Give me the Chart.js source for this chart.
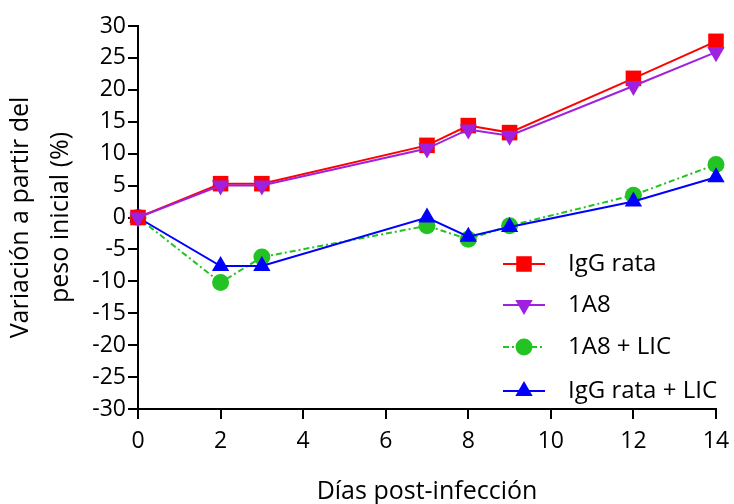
<!DOCTYPE html>
<html>
<head>
<meta charset="utf-8">
<script src="https://cdn.jsdelivr.net/npm/chart.js@4.4.1/dist/chart.umd.min.js"></script>
<style>
  html, body { margin: 0; padding: 0; background: #fff; }
  #wrap { width: 734px; height: 504px; }
</style>
</head>
<body>
<div id="wrap"><canvas id="graph" width="734" height="504"></canvas></div>
<script>
// days post infection
const dias = [0, 2, 3, 7, 8, 9, 12, 14];

// % weight change per group
const iggRata = [0, 5.3, 5.3, 11.3, 14.4, 13.3, 21.8, 27.6];
const a18 = [0, 5.0, 5.0, 10.8, 13.8, 12.8, 20.6, 25.9];
const a18Lic = [0, -10.2, -6.2, -1.3, -3.4, -1.3, 3.5, 8.3];
const iggRataLic = [0, -7.6, -7.6, 0, -3.0, -1.5, 2.5, 6.3];

const labels = ['IgG rata', '1A8', '1A8 + LIC', 'IgG rata + LIC'];

function pts(vals) {
    return dias.map((d, i) => ({ x: d, y: vals[i] }));
}

Chart.defaults.font.family = "'Open Sans', sans-serif";
Chart.defaults.color = '#000';

// legend drawn inside the plot, lower right
const insideLegend = {
    id: 'insideLegend',
    afterDatasetsDraw(chart) {
        const ctx = chart.ctx;
        const rows = [264, 305, 347, 391];
        ctx.save();
        chart.data.datasets.forEach((ds, i) => {
            let y = rows[i];
            ctx.strokeStyle = ds.borderColor;
            ctx.lineWidth = ds.borderWidth;
            ctx.setLineDash(ds.borderDash || []);
            ctx.beginPath();
            ctx.moveTo(503, y);
            ctx.lineTo(545, y);
            ctx.stroke();
            ctx.setLineDash([]);
            ctx.fillStyle = ds.pointBackgroundColor;
            ctx.strokeStyle = ds.pointBackgroundColor;
            Chart.helpers.drawPoint(ctx, {
                pointStyle: ds.pointStyle,
                rotation: ds.pointRotation || 0,
                radius: ds.pointRadius,
                borderWidth: 0
            }, 524, y);
            ctx.fillStyle = '#000';
            ctx.font = "24px 'Open Sans', sans-serif";
            ctx.textBaseline = 'middle';
            ctx.fillText(ds.label, 568, y);
        });
        ctx.restore();
    }
};

const ctx = document.getElementById('graph').getContext('2d');

const data = {
    datasets: [{
        label: labels[0],
        data: pts(iggRata),
        borderColor: '#FF0000',
        borderWidth: 2,
        pointStyle: 'rect',
        pointRadius: 11,
        pointBackgroundColor: '#FF0000',
        pointBorderWidth: 0,
        order: 2,
        clip: false
    },
    {
        label: labels[1],
        data: pts(a18),
        borderColor: '#A020E0',
        borderWidth: 2,
        pointStyle: 'triangle',
        pointRotation: 180,
        pointRadius: 10,
        pointBackgroundColor: '#A020E0',
        pointBorderWidth: 0,
        order: 1,
        clip: false
    },
    {
        label: labels[2],
        data: pts(a18Lic),
        borderColor: '#22C322',
        borderWidth: 2,
        borderDash: [6, 3, 2, 3],
        pointStyle: 'circle',
        pointRadius: 8.5,
        pointBackgroundColor: '#22C322',
        pointBorderWidth: 0,
        order: 4,
        clip: false
    },
    {
        label: labels[3],
        data: pts(iggRataLic),
        borderColor: '#0000FF',
        borderWidth: 2,
        pointStyle: 'triangle',
        pointRadius: 10,
        pointBackgroundColor: '#0000FF',
        pointBorderWidth: 0,
        order: 3,
        clip: false
    }]
};

const options = {
    responsive: false,
    animation: false,
    layout: {
        padding: { left: 0, right: 0, top: 26, bottom: 0 }
    },
    elements: { line: { tension: 0 } },
    scales: {
        x: {
            type: 'linear',
            min: 0,
            max: 14,
            afterFit(scale) {
                scale.height = 95;
                scale.paddingLeft = 0;
                scale.paddingRight = 18;
            },
            border: { display: true, color: '#000', width: 2 },
            grid: { drawOnChartArea: false, color: '#000', lineWidth: 2, tickLength: 10 },
            ticks: { stepSize: 2, font: { size: 23 }, padding: 9 },
            title: {
                display: true,
                text: 'Días post-infección',
                font: { size: 25, lineHeight: 1 },
                padding: { top: 0, bottom: 0 }
            }
        },
        y: {
            min: -30,
            max: 30,
            afterFit(scale) { scale.width = 138; },
            border: { display: true, color: '#000', width: 2 },
            grid: { drawOnChartArea: false, color: '#000', lineWidth: 2, tickLength: 10 },
            ticks: { stepSize: 5, font: { size: 23 }, padding: 2 },
            title: {
                display: true,
                text: ['Variación a partir del', 'peso inicial (%)'],
                font: { size: 25, lineHeight: 1.6 },
                padding: { top: 1, bottom: 0 }
            }
        }
    },
    plugins: {
        legend: { display: false },
        tooltip: { enabled: false }
    }
};

new Chart(ctx, {
    type: 'line',
    data: data,
    options: options,
    plugins: [insideLegend]
});
</script>
</body>
</html>
